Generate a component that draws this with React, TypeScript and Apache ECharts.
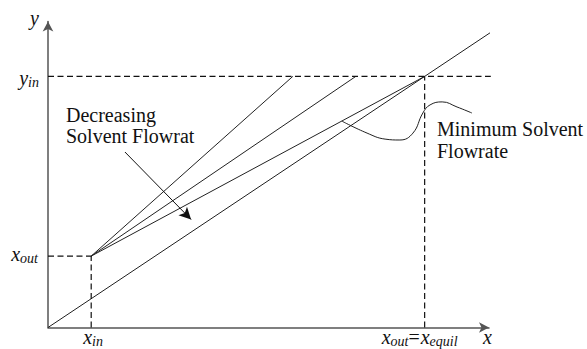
import React, { useEffect, useRef } from "react";
import * as echarts from "echarts";

// ---- data (arbitrary composition units) ----
const X_IN = 9.6; // liquid inlet composition (x_in)
const X_OUT = 23.8; // y-value where operating lines start (x_out)
const Y_IN = 83.7; // gas inlet composition (y_in)
const X_EQUIL = 83.7; // x_out = x_equil (pinch)
const AXIS_MAX_X = 98;
const AXIS_MAX_Y = 102;
const Y_IN_DASH_END = 98.4;
const equilibriumX = [0, 99.3];
const equilibriumY = [0, 99.3];
const operatingEndX = [54.4, 68.4, X_EQUIL]; // each ends at y = Y_IN
const curveX = [65.3, 70.9, 74.9, 78.2, 81.1, 83.3, 84.9, 87.6, 90.9, 94.2];
const curveY = [68.8, 64.8, 62.8, 62.5, 64.8, 71.5, 74.2, 75.2, 73.5, 71.5];
const arrowStart = [17.1, 58.5];
const arrowEnd = [31.8, 36.0];
const decreasingLines = ["Decreasing", "Solvent Flowrat"];
const minimumLines = ["Minimum Solvent", "Flowrate"];

const FONT = "Liberation Serif, Times New Roman, serif";
const BASE = 0.34;

const measureCtx =
  typeof document !== "undefined"
    ? document.createElement("canvas").getContext("2d")
    : null;
function measure(text: string, size: number, italic: boolean) {
  if (!measureCtx) return text.length * size * 0.45;
  measureCtx.font = `${italic ? "italic " : ""}${size}px 'Liberation Serif', serif`;
  return measureCtx.measureText(text).width;
}

function txt(text: string, x: number, baseline: number, size: number, italic: boolean) {
  return {
    type: "text",
    x,
    y: baseline - BASE * size,
    silent: true,
    style: {
      text,
      fill: "#111",
      fontSize: size,
      fontFamily: FONT,
      fontStyle: italic ? "italic" : "normal",
      align: "left",
      textAlign: "left",
      verticalAlign: "middle",
      textVerticalAlign: "middle",
    },
  };
}

type Part = { t: string; s: number; i: boolean; dy?: number; dx?: number };
function seqWidth(parts: Part[]) {
  return parts.reduce((a, p) => a + (p.dx || 0) + measure(p.t, p.s, p.i), 0);
}
function seq(parts: Part[], x0: number, baseline: number) {
  let x = x0;
  const els: any[] = [];
  for (const p of parts) {
    x += p.dx || 0;
    els.push(txt(p.t, x, baseline + (p.dy || 0), p.s, p.i));
    x += measure(p.t, p.s, p.i);
  }
  return els;
}

const pair = (xs: number[], ys: number[]) => xs.map((x, k) => [x, ys[k]]);

export default function App() {
  const ref = useRef<HTMLDivElement>(null);
  useEffect(() => {
    document.body.style.margin = "0";
    if (!ref.current) return;
    const chart = echarts.init(ref.current, undefined, { renderer: "svg" });
    const solid = { color: "#222", width: 1 };
    const dashed = { color: "#111", width: 1.2, type: [6, 3.5] as any };
    const lineSeries = (data: number[][], lineStyle: any, extra: any = {}) => ({
      type: "line",
      data,
      symbol: "none",
      clip: false,
      silent: true,
      lineStyle,
      ...extra,
    });
    const series: any[] = [
      lineSeries(pair(equilibriumX, equilibriumY), solid, {
        markLine: {
          silent: true,
          symbol: ["none", "arrow"],
          symbolSize: [9, 12],
          label: { show: false },
          lineStyle: { color: "#111", width: 1, type: "solid" },
          data: [[{ coord: arrowStart }, { coord: arrowEnd }]],
        },
      }),
      ...operatingEndX.map((ex) =>
        lineSeries([[X_IN, X_OUT], [ex, Y_IN]], solid)
      ),
      lineSeries([[0, Y_IN], [Y_IN_DASH_END, Y_IN]], dashed),
      lineSeries([[X_EQUIL, 0], [X_EQUIL, Y_IN]], dashed),
      lineSeries([[0, X_OUT], [X_IN, X_OUT]], dashed),
      lineSeries([[X_IN, 0], [X_IN, X_OUT]], dashed),
      lineSeries(pair(curveX, curveY), { color: "#222", width: 1 }, { smooth: 0.45 }),
    ];
    const axisCommon = {
      type: "value",
      min: 0,
      axisTick: { show: false },
      axisLabel: { show: false },
      splitLine: { show: false },
    };
    chart.setOption({
      animation: false,
      backgroundColor: "#fff",
      grid: { left: 48, top: 21.5, width: 441, height: 306, containLabel: false },
      xAxis: {
        ...axisCommon,
        max: AXIS_MAX_X,
        axisLine: {
          show: true,
          onZero: false,
          symbol: ["none", "arrow"],
          symbolSize: [8, 10],
          lineStyle: { color: "#555", width: 1.5 },
        },
      },
      yAxis: {
        ...axisCommon,
        max: AXIS_MAX_Y,
        axisLine: {
          show: true,
          onZero: false,
          symbol: ["none", "arrow"],
          symbolSize: [8, 10],
          lineStyle: { color: "#555", width: 1.5 },
        },
      },
      series,
    });

    const px = (p: number[]) =>
      chart.convertToPixel({ xAxisIndex: 0, yAxisIndex: 0 }, p) as number[];
    const origin = px([0, 0]);
    const pYin = px([0, Y_IN]);
    const pXout = px([0, X_OUT]);
    const pXin = px([X_IN, 0]);
    const pXeq = px([X_EQUIL, 0]);
    const pTop = px([0, AXIS_MAX_Y]);
    const pRight = px([AXIS_MAX_X, 0]);

    const yinParts: Part[] = [
      { t: "y", s: 20, i: true },
      { t: "in", s: 14, i: true, dy: 2 },
    ];
    const xoutParts: Part[] = [
      { t: "x", s: 20, i: true },
      { t: "out", s: 14, i: true, dy: 2 },
    ];
    const xinParts: Part[] = [
      { t: "x", s: 20, i: true },
      { t: "in", s: 14, i: true, dy: 2.5 },
    ];
    const eqParts: Part[] = [
      { t: "x", s: 20, i: true },
      { t: "out", s: 14, i: true, dy: 2 },
      { t: "=", s: 20, i: false },
      { t: "x", s: 20, i: true, dx: 1 },
      { t: "equil", s: 14, i: true, dy: 2 },
    ];

    const labelRight = origin[0] - 9;
    const graphic: any[] = [
      ...seq([{ t: "y", s: 20, i: true }], labelRight - measure("y", 20, true), pTop[1] + 3),
      ...seq(yinParts, labelRight - seqWidth(yinParts), pYin[1] + 8.5),
      ...seq(xoutParts, labelRight - 1 - seqWidth(xoutParts), pXout[1] + 5),
      ...seq(xinParts, pXin[0] - 8, origin[1] + 16.5),
      ...seq(eqParts, pXeq[0] - 43, origin[1] + 16.5),
      ...seq([{ t: "x", s: 20, i: true }], pRight[0] - 6, origin[1] + 16.5),
      ...decreasingLines.map((t, k) => txt(t, 66, 121.5 + k * 21.5, 20, false)),
      ...minimumLines.map((t, k) => txt(t, 437, 136 + k * 22, 20, false)),
    ];
    chart.setOption({ graphic });
    return () => chart.dispose();
  }, []);
  return (
    <div
      ref={ref}
      style={{ position: "absolute", left: 0, top: 0, width: 587, height: 349, background: "#fff" }}
    />
  );
}
